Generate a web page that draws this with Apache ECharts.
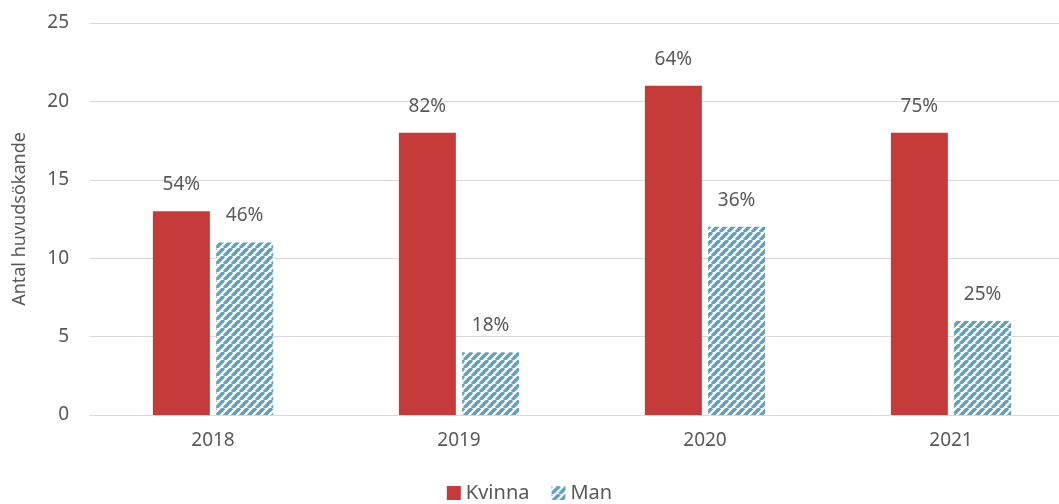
<!DOCTYPE html>
<html><head><meta charset="utf-8">
<script src="https://cdn.jsdelivr.net/npm/echarts@6/dist/echarts.min.js"></script>
<style>html,body{margin:0;padding:0;background:#fff}#c{width:1059px;height:504px}</style>
</head><body><div id="c"></div>
<script>
const categories = ['2018','2019','2020','2021'];
const kvinna = [13,18,21,18];
const man = [11,4,12,6];
const kvinnaPct = ['54%','82%','64%','75%'];
const manPct = ['46%','18%','36%','25%'];
const yTicks = [0,5,10,15,20,25];

function hatch(){
  const s=8, c=document.createElement('canvas');
  c.width=s; c.height=s;
  const g=c.getContext('2d');
  g.fillStyle='#ffffff'; g.fillRect(0,0,s,s);
  g.strokeStyle='#64a0bc'; g.lineWidth=3.6;
  for(let k=-1;k<=1;k++){
    g.beginPath(); g.moveTo(k*s, s); g.lineTo(k*s+s, 0); g.stroke();
  }
  return c;
}
const pat = {image: hatch(), repeat:'repeat'};
const font = "'Noto Sans', sans-serif";
const chart = echarts.init(document.getElementById('c'));
chart.setOption({
  animation:false,
  textStyle:{fontFamily:font},
  grid:{left:90,top:23,width:984,height:392,outerBoundsMode:'none',containLabel:false},
  legend:{bottom:-4,left:'center',itemWidth:14,itemHeight:14,itemGap:22,
    textStyle:{fontSize:20,color:'#595959',fontFamily:font},
    data:[{name:'Kvinna',icon:'rect'},{name:'Man',icon:'rect'}]},
  xAxis:{type:'category',data:categories,
    axisLine:{lineStyle:{color:'#d9d9d9',width:1}},axisTick:{show:false},
    axisLabel:{fontSize:19,color:'#595959',margin:16}},
  yAxis:{type:'value',min:0,max:25,interval:5,
    name:'Antal huvudsökande',nameLocation:'middle',nameGap:61,nameRotate:90,
    nameTextStyle:{fontSize:18,color:'#595959'},
    axisLabel:{fontSize:19,color:'#595959',margin:21,
      formatter:v=>yTicks.includes(v)?String(v):''},
    axisLine:{show:false},axisTick:{show:false},
    splitLine:{lineStyle:{color:'#d9d9d9',width:1}}},
  series:[
    {name:'Kvinna',type:'bar',data:kvinna,barWidth:57,barGap:'11%',
     itemStyle:{color:'#c63b3a'},
     label:{show:true,position:'top',distance:17,fontSize:19,color:'#595959',
       formatter:p=>kvinnaPct[p.dataIndex]}},
    {name:'Man',type:'bar',data:man,barWidth:57,
     itemStyle:{color:pat},
     label:{show:true,position:'top',distance:17,fontSize:19,color:'#595959',
       formatter:p=>manPct[p.dataIndex]}}
  ]
});
</script></body></html>
